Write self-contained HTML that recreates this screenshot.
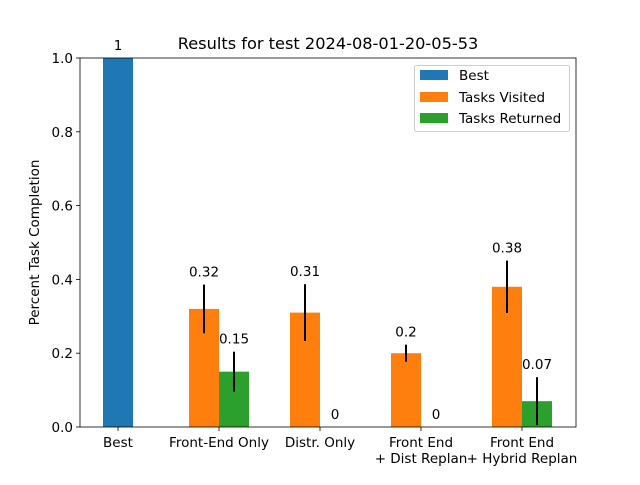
<!DOCTYPE html>
<html><head><meta charset="utf-8"><style>
body{margin:0;background:#fff;}
svg{font-family:"DejaVu Sans","Liberation Sans",sans-serif;}
</style></head><body>
<svg id="chart" width="640" height="480" xmlns="http://www.w3.org/2000/svg">
<rect width="640" height="480" fill="#fff"/>
<text x="328" y="49" font-size="16.2" text-anchor="middle">Results for test 2024-08-01-20-05-53</text>
<g id="plot"></g>
<text transform="translate(39,242.5) rotate(-90)" font-size="13.5" text-anchor="middle">Percent Task Completion</text>
<g>
<rect x="414.5" y="65.5" width="155" height="66" fill="#fff" stroke="#ccc" rx="2"/>
<rect x="420" y="70" width="28" height="10" fill="#1f77b4"/>
<text x="459" y="80" font-size="13.5">Best</text>
<rect x="420" y="92" width="28" height="10" fill="#ff7f0e"/>
<text x="459" y="102" font-size="13.5">Tasks Visited</text>
<rect x="420" y="113" width="28" height="10" fill="#2ca02c"/>
<text x="459" y="123" font-size="13.5">Tasks Returned</text>
</g>
</svg>
<script>
const categories=["Best","Front-End Only","Distr. Only","Front End\n+ Dist Replan","Front End\n+ Hybrid Replan"];
const bestValues=[1,null,null,null,null];
const visitedValues=[null,0.32,0.31,0.2,0.38];
const visitedErr=[null,0.066,0.077,0.023,0.071];
const returnedValues=[null,0.15,0,0,0.07];
const returnedErr=[null,0.054,0,0,0.065];
const yTicks=[0,0.2,0.4,0.6,0.8,1.0];
const yTickLabels=["0.0","0.2","0.4","0.6","0.8","1.0"];

const NS="http://www.w3.org/2000/svg";
const g=document.getElementById('plot');
const L=80,R=576,T=58,B=427;
const FS=13.5;
const y=v=>B-(v/1.0)*(B-T);
const x=i=>118+i*101;
const bw=30;
function mk(tag,attrs,parent){const e=document.createElementNS(NS,tag);for(const k in attrs)e.setAttribute(k,attrs[k]);(parent||g).appendChild(e);return e;}
function fmt(v){return String(Math.round(v*100)/100);}
function bar(i,off,v,err,color,name){
  if(v===null)return;
  const cx=x(i)+off;
  const r=mk('rect',{x:cx-bw/2,y:y(v),width:bw,height:B-y(v),fill:color});
  
  
  let top=v;
  if(err){
    const l=mk('line',{x1:cx,x2:cx,y1:y(v+err),y2:y(Math.max(v-err,0)),stroke:'#000','stroke-width':2});
    
    
    top=v+err;
  }
  const t=mk('text',{x:cx,y:y(top)-8,'font-size':FS,'text-anchor':'middle'});
  t.textContent=fmt(v);
  
  
}
categories.forEach((c,i)=>{
  bar(i,0,bestValues[i],0,'#1f77b4','bar-best');
  bar(i,-15,visitedValues[i],visitedErr[i],'#ff7f0e','bar-visited');
  bar(i,15,returnedValues[i],returnedErr[i],'#2ca02c','bar-returned');
  const tk=mk('line',{x1:x(i),x2:x(i),y1:B,y2:B+4,stroke:'#000','stroke-width':0.8});
  
  
  c.split('\n').forEach((ln,j)=>{
    const t=mk('text',{x:x(i),y:B+20+j*16,'font-size':FS,'text-anchor':'middle'});
    t.textContent=ln;
    
    
  });
});
yTicks.forEach((v,i)=>{
  const tk=mk('line',{x1:L-4,x2:L,y1:y(v),y2:y(v),stroke:'#000','stroke-width':0.8});
  
  
  const t=mk('text',{x:L-7,y:y(v)+5,'font-size':FS,'text-anchor':'end'});
  t.textContent=yTickLabels[i];
  
  
});
const fr=mk('rect',{x:L,y:T,width:R-L,height:B-T,fill:'none',stroke:'#000','stroke-width':0.8});


</script>
</body></html>
